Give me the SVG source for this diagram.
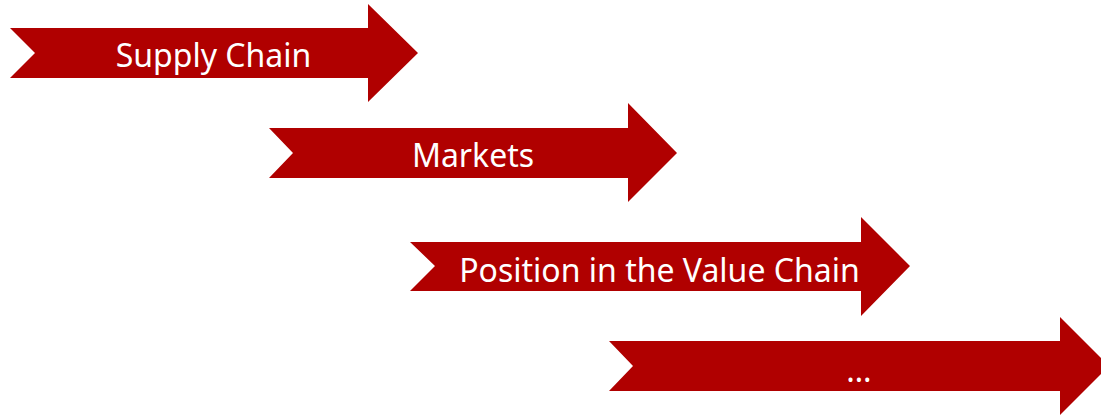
<svg xmlns="http://www.w3.org/2000/svg" width="1101" height="416" viewBox="0 0 1101 416">
<style>
.arrow{fill:#B00000}
.lbl{fill:#ffffff;font-family:"Noto Sans","Open Sans","DejaVu Sans",sans-serif;font-size:32px;text-anchor:middle}
</style>
<rect width="1101" height="416" fill="#ffffff"/>
<g id="node-supply-chain">
<polygon class="arrow" points="10,28 368,28 368,4 418,53 368,102 368,78 10,78 35,53"/>
<text class="lbl" x="213.5" y="67">Supply Chain</text>
</g>
<g id="node-markets">
<polygon class="arrow" points="269,128 628,128 628,103 677,153 628,202 628,178 269,178 293,153"/>
<text class="lbl" x="473" y="167">Markets</text>
</g>
<g id="node-position">
<polygon class="arrow" points="410,242 861,242 861,217 910,266 861,316 861,291 410,291 435,266"/>
<text class="lbl" x="659.5" y="282">Position in the Value Chain</text>
</g>
<g id="node-more">
<polygon class="arrow" points="609,341 1060,341 1060,317 1109,366 1060,415 1060,391 609,391 633,366"/>
<text class="lbl" x="859" y="382">…</text>
</g>
<g id="connectors"></g>
</svg>
